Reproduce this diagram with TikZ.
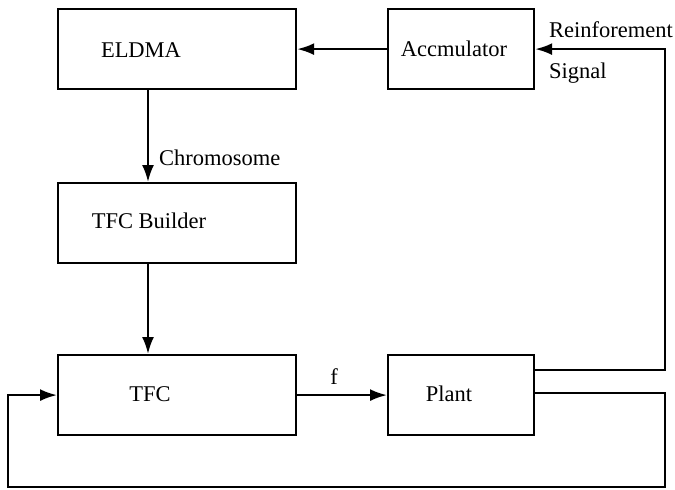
\documentclass[tikz,border=0pt]{standalone}
\usepackage{fontspec}
\setmainfont{Liberation Serif}
\usetikzlibrary{arrows.meta}
\begin{document}
\begin{tikzpicture}[x=1pt,y=-1pt,
  box/.style={draw,line width=2.2pt,inner sep=0pt},
  lbl/.style={inner sep=0pt,font=\fontsize{22.5}{26}\selectfont},
  conn/.style={line width=2.2pt},
  arr/.style={conn,-{Latex[length=17pt,width=12pt]}}]
\useasboundingbox (0,0) rectangle (675,490);
\node[box,minimum width=238pt,minimum height=80pt,anchor=north west] (eldma) at (57,8) {};
\node[box,minimum width=146pt,minimum height=80pt,anchor=north west] (acc) at (387,8) {};
\node[box,minimum width=238pt,minimum height=80pt,anchor=north west] (tfcb) at (57,182) {};
\node[box,minimum width=238pt,minimum height=80pt,anchor=north west] (tfc) at (57,354) {};
\node[box,minimum width=146pt,minimum height=80pt,anchor=north west] (plant) at (387,354) {};
\node[lbl] (teldma) at (141,50) {ELDMA};
\node[lbl] (tacc) at (454,49) {Accmulator};
\node[lbl] (ttfcb) at (149,221) {TFC Builder};
\node[lbl] (ttfc) at (150,394) {TFC};
\node[lbl] (tplant) at (449,394) {Plant};
\node[lbl,anchor=west] (tchrom) at (159,158) {Chromosome};
\node[lbl] (tf) at (334,377) {f};
\node[lbl,anchor=west] (treinf) at (549,30) {Reinforement};
\node[lbl,anchor=west] (tsig) at (549,73) {Signal};
\coordinate (cx) at (148,0);
\coordinate (rx) at (665,0);
\coordinate (lx) at (8,0);
\coordinate (py1) at (0,370);
\coordinate (py2) at (0,393);
\coordinate (by) at (0,487);
\draw[arr] (acc.west) -- (acc.west -| eldma.east);
\draw[arr] (cx |- eldma.south) -- (cx |- tfcb.north);
\draw[arr] (cx |- tfcb.south) -- (cx |- tfc.north);
\draw[arr] (tfc.east) -- (plant.west);
\draw[arr] (plant.east |- py1) -- (rx |- py1) -- (rx |- acc.east) -- (acc.east);
\draw[arr] (plant.east |- py2) -- (rx |- py2) -- (rx |- by) -- (lx |- by) -- (lx |- tfc.west) -- (tfc.west);
\end{tikzpicture}
\end{document}
